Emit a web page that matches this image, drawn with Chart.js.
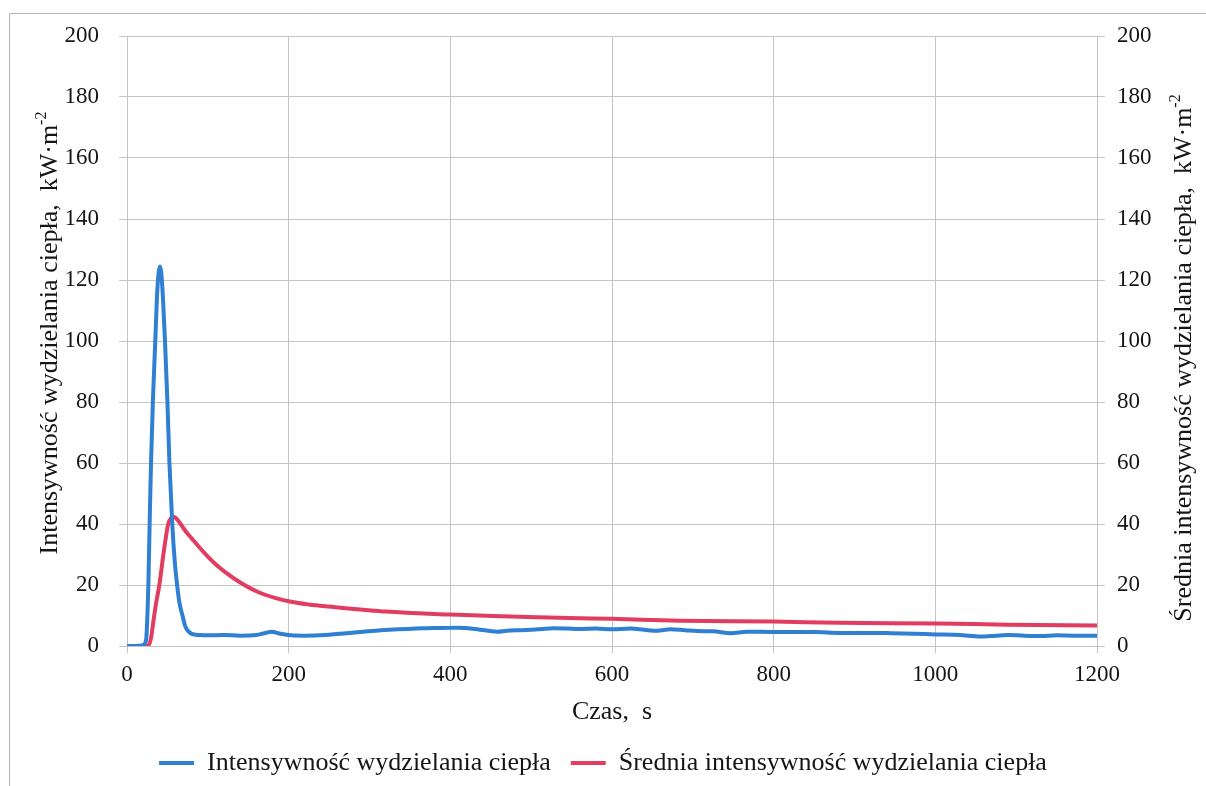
<!DOCTYPE html>
<html>
<head>
<meta charset="utf-8">
<script src="https://cdn.jsdelivr.net/npm/chart.js@4"></script>
<style>
  html, body { margin: 0; padding: 0; background: #ffffff; }
  #wrap { width: 1206px; height: 786px; position: relative; }
</style>
</head>
<body>
<div id="wrap"><canvas id="c" width="1206" height="786"></canvas></div>
<script>
// Time (s) and values (kW·m-2)
const hrrTime = [0,10,20,22.5,24,26.4,28,29.7,32,35,37,39,40.8,42.5,44.5,47,50,52.5,56,59,62,65,69,72,76,80,90,100,120,140,160,170,179,190,203,220,245,259,275,292,314,330,346,367,390,410,433,458,470,487,505,528,545,561,580,600,623,640,656,672,690,705,725,747,767,800,850,883,920,945,975,1000,1030,1056,1075,1089,1110,1131,1150,1172,1200];
const hrrValues = [0,0,0.3,1,3,20,40,60,80,100,114,122,124.4,122,114,100,80,60,40,28,20,14,9.6,6.5,4.8,4,3.6,3.5,3.6,3.4,3.6,4.2,4.7,4.0,3.5,3.4,3.6,3.9,4.3,4.7,5.2,5.4,5.6,5.8,5.9,6.0,5.5,4.7,5.0,5.2,5.4,5.8,5.7,5.6,5.7,5.5,5.7,5.3,5.0,5.5,5.2,4.9,4.8,4.2,4.7,4.6,4.6,4.3,4.3,4.2,4.0,3.8,3.6,3.1,3.4,3.6,3.4,3.3,3.5,3.4,3.4];

const avgTime = [0,20,26.5,30,32.6,36,40,45,48,51,55,58,62,65,72,80,90,100,110,121,142,162,183,203,225,245,270,292,320,346,400,453,507,561,600,685,800,883,1000,1089,1200];
const avgValues = [0,0,0.2,3,8,14,20,30,35.5,40,42,42.4,41.5,40.5,37.8,35.3,32.2,29.3,26.7,24.3,20.5,17.7,15.8,14.5,13.6,13.0,12.4,11.9,11.3,10.9,10.3,9.8,9.4,9.1,8.9,8.3,8.0,7.6,7.4,7.0,6.7];

const seriesNames = ['Intensywność wydzielania ciepła', 'Średnia intensywność wydzielania ciepła'];
const xTitle = 'Czas,  s';
const leftTitle = 'Intensywność wydzielania ciepła,  kW·m';
const rightTitle = 'Średnia intensywność wydzielania ciepła,  kW·m';
const unitSup = '-2';

const FONT = "'Liberation Serif', 'Times New Roman', serif";
const TXT = '#151515';
const GRID = '#c4c4c4';

function toPts(xs, ys) { return xs.map((x, i) => ({x: x, y: ys[i]})); }

const decor = {
  id: 'decor',
  beforeDraw(chart) {
    const ctx = chart.ctx;
    ctx.save();
    ctx.fillStyle = '#ffffff';
    ctx.fillRect(0, 0, chart.width, chart.height);
    ctx.strokeStyle = '#b5b5b5';
    ctx.lineWidth = 1;
    ctx.beginPath();
    ctx.moveTo(9.5, 786);
    ctx.lineTo(9.5, 13.5);
    ctx.lineTo(1206, 13.5);
    ctx.stroke();
    ctx.restore();
  },
  afterDraw(chart) {
    const ctx = chart.ctx;
    const drawTitle = (text, cx, cy) => {
      ctx.save();
      ctx.translate(cx, cy);
      ctx.rotate(-Math.PI / 2);
      ctx.fillStyle = TXT;
      ctx.textBaseline = 'middle';
      ctx.font = '26px ' + FONT;
      const w1 = ctx.measureText(text).width;
      ctx.font = '16px ' + FONT;
      const w2 = ctx.measureText(unitSup).width;
      const total = w1 + w2;
      ctx.textAlign = 'left';
      ctx.font = '26px ' + FONT;
      ctx.fillText(text, -total / 2, 0);
      ctx.font = '16px ' + FONT;
      ctx.fillText(unitSup, -total / 2 + w1, -8);
      ctx.restore();
    };
    drawTitle(leftTitle, 50, 333);
    drawTitle(rightTitle, 1184, 358);
  }
};

new Chart(document.getElementById('c'), {
  type: 'line',
  data: {
    datasets: [
      {
        label: seriesNames[0],
        data: toPts(hrrTime, hrrValues),
        borderColor: '#2f7fd2',
        backgroundColor: '#2f7fd2',
        borderWidth: 4,
        pointRadius: 0,
        cubicInterpolationMode: 'monotone',
        yAxisID: 'y'
      },
      {
        label: seriesNames[1],
        data: toPts(avgTime, avgValues),
        borderColor: '#e23d60',
        backgroundColor: '#e23d60',
        borderWidth: 4,
        pointRadius: 0,
        cubicInterpolationMode: 'monotone',
        yAxisID: 'y2'
      }
    ]
  },
  options: {
    responsive: false,
    animation: false,
    devicePixelRatio: 1,
    layout: { padding: { top: 36, left: 0, right: 0, bottom: 0 } },
    plugins: {
      legend: {
        position: 'bottom',
        labels: {
          usePointStyle: true,
          pointStyle: 'line',
          pointStyleWidth: 35,
          padding: 20,
          color: TXT,
          font: { family: FONT, size: 26, lineHeight: 1.0 }
        }
      },
      tooltip: { enabled: false }
    },
    scales: {
      x: {
        type: 'linear',
        min: 0, max: 1200,
        ticks: { stepSize: 200, color: TXT, padding: 8, maxRotation: 0, font: { family: FONT, size: 23 },
                 callback: (v) => String(v) },
        grid: { color: GRID, tickLength: 7, tickColor: GRID },
        border: { color: GRID },
        title: { display: true, text: xTitle, color: TXT, padding: { top: 0, bottom: 2 }, font: { family: FONT, size: 26 } },
        afterFit(s) { s.height = 84; }
      },
      y: {
        position: 'left',
        min: 0, max: 200,
        ticks: { stepSize: 20, color: TXT, padding: 20, font: { family: FONT, size: 23 } },
        grid: { color: GRID, tickLength: 8, tickColor: GRID },
        border: { color: GRID },
        afterFit(s) { s.width = 127; }
      },
      y2: {
        position: 'right',
        min: 0, max: 200,
        ticks: { stepSize: 20, color: TXT, padding: 12, font: { family: FONT, size: 23 } },
        grid: { drawOnChartArea: false, tickLength: 8, color: GRID, tickColor: GRID },
        border: { color: GRID },
        afterFit(s) { s.width = 109; }
      }
    }
  },
  plugins: [decor]
});
</script>
</body>
</html>
